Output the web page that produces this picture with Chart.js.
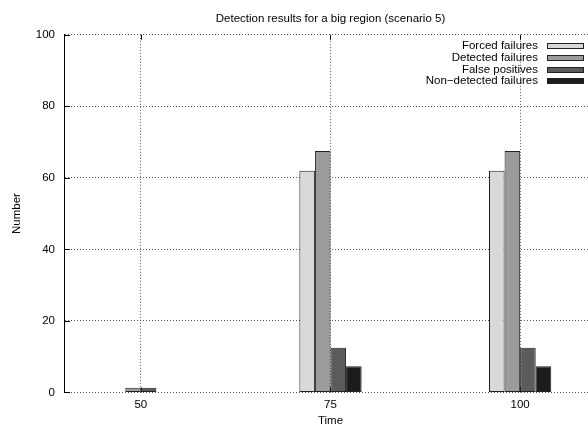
<!DOCTYPE html>
<html>
<head>
<meta charset="utf-8">
<script src="https://cdn.jsdelivr.net/npm/chart.js@4.4.0/dist/chart.umd.min.js"></script>
<style>
  html, body { margin: 0; padding: 0; background: #fff; overflow: hidden; }
  #wrap { width: 588px; height: 425px; overflow: hidden; position: relative; }
  canvas { display: block; }
</style>
</head>
<body>
<div id="wrap"><canvas id="c" width="600" height="425"></canvas></div>
<script>
// Time steps and the counts measured at each of them
const times = [50, 75, 100];
const forcedFailures = [0, 62, 62];
const detectedFailures = [1.3, 67.5, 67.5];
const falsePositives = [1.3, 12.5, 12.5];
const nonDetectedFailures = [0, 7.3, 7.3];

const yTicks = [0, 20, 40, 60, 80, 100];
const seriesNames = ['Forced failures', 'Detected failures', 'False positives', 'Non\u2212detected failures'];
const seriesValues = [forcedFailures, detectedFailures, falsePositives, nonDetectedFailures];
const seriesColors = ['#d9d9d9', '#9b9b9b', '#5b5b5b', '#1c1c1c'];

const FONT = { family: "'Liberation Sans', Arial, Helvetica, sans-serif", size: 11.5, weight: 'normal' };
const FONT_CSS = "11.5px 'Liberation Sans', Arial, Helvetica, sans-serif";

// Key drawn inside the plot, text right-aligned with the sample box on its right
const keyPlugin = {
  id: 'insideKey',
  afterDatasetsDraw(chart) {
    const { ctx, chartArea: a } = chart;
    ctx.save();
    ctx.font = FONT_CSS;
    ctx.textAlign = 'right';
    ctx.textBaseline = 'middle';
    chart.data.datasets.forEach((ds, i) => {
      const y = Math.round(a.top + 11.5 + i * 11.7);
      ctx.fillStyle = '#000';
      ctx.fillText(ds.label, a.right - 58, y);
      const bx = Math.round(a.right - 49);
      ctx.fillStyle = ds.backgroundColor;
      ctx.fillRect(bx, y - 2, 36, 5);
      ctx.strokeStyle = '#222';
      ctx.lineWidth = 1;
      ctx.strokeRect(bx + 0.5, y - 2.5, 36, 5);
    });
    ctx.restore();
  }
};

// Short inward tick marks on the left and top edges
const innerTicks = {
  id: 'innerTicks',
  beforeDatasetsDraw(chart) {
    const { ctx, chartArea: a, scales } = chart;
    ctx.save();
    ctx.strokeStyle = '#000';
    ctx.lineWidth = 1;
    ctx.beginPath();
    scales.y.ticks.forEach(t => {
      const py = Math.round(scales.y.getPixelForValue(t.value)) + 0.5;
      ctx.moveTo(a.left, py);
      ctx.lineTo(a.left + 5, py);
    });
    scales.x.ticks.forEach(t => {
      const px = Math.round(scales.x.getPixelForValue(t.value)) + 0.5;
      ctx.moveTo(px, a.top);
      ctx.lineTo(px, a.top + 5);
      ctx.moveTo(px, a.bottom);
      ctx.lineTo(px, a.bottom - 5);
    });
    ctx.stroke();
    ctx.restore();
  }
};

const datasets = seriesNames.map((name, i) => ({
  label: name,
  data: times.map((t, j) => ({ x: t, y: seriesValues[i][j] })),
  backgroundColor: seriesColors[i],
  borderColor: '#222',
  borderWidth: 1,
  borderSkipped: false,
  barPercentage: 1,
  categoryPercentage: 0.3284
}));

new Chart(document.getElementById('c'), {
  type: 'bar',
  data: { datasets },
  options: {
    responsive: false,
    animation: false,
    devicePixelRatio: 1,
    layout: { padding: { left: 2, right: 4, top: 0, bottom: -3 } },
    plugins: {
      legend: { display: false },
      tooltip: { enabled: false },
      title: {
        display: true,
        fullSize: false,
        text: 'Detection results for a big region (scenario 5)',
        color: '#000',
        font: FONT,
        padding: { top: 12, bottom: 9 }
      }
    },
    scales: {
      x: {
        type: 'linear',
        min: 40,
        max: 110,
        offset: false,
        afterBuildTicks: s => { s.ticks = times.map(v => ({ value: v })); },
        ticks: { color: '#000', font: FONT, padding: 6, maxRotation: 0 },
        grid: { color: '#555', drawTicks: false, offset: false },
        border: { display: false, dash: [1, 2] },
        title: { display: true, text: 'Time', color: '#000', font: FONT, padding: { top: -4, bottom: 0 } }
      },
      y: {
        min: 0,
        max: 100,
        afterBuildTicks: s => { s.ticks = yTicks.map(v => ({ value: v })); },
        ticks: { color: '#000', font: FONT, padding: 10 },
        grid: { color: '#555', drawTicks: false },
        border: { display: true, color: '#000', width: 1, dash: [1, 2] },
        title: { display: true, text: 'Number', color: '#000', font: FONT, padding: { top: 8, bottom: 2 } }
      }
    }
  },
  plugins: [keyPlugin, innerTicks]
});
</script>
</body>
</html>
